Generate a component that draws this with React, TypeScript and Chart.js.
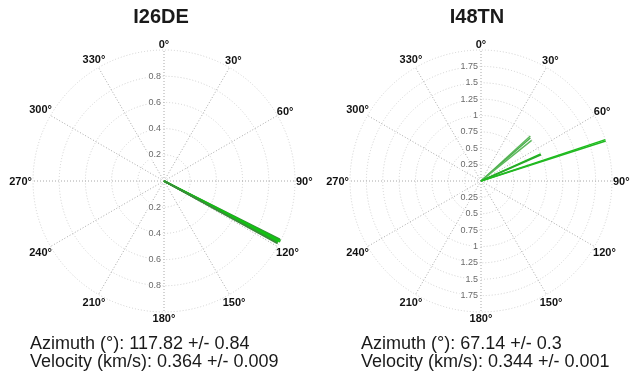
import React, { useEffect, useRef } from "react";
import { Chart, registerables } from "chart.js";

Chart.register(...registerables);

const FONT = "'Liberation Sans', Arial, Helvetica, sans-serif";

const ANGLE_LABELS = ["0°", "30°", "60°", "90°", "120°", "150°", "180°", "210°", "240°", "270°", "300°", "330°"];

// Left station
const LEFT_TITLE = "I26DE";
const LEFT_MAX = 1;
const LEFT_STEP = 0.2;
const LEFT_TICKS = [0.2, 0.4, 0.6, 0.8];
const LEFT_AZIMUTHS = [116.7, 117.0, 117.3, 117.6, 117.9, 118.2, 118.5, 118.8];
const LEFT_MAGNITUDES = [0.99, 1.0, 0.99, 1.0, 0.98, 0.99, 0.98, 0.99];
const LEFT_COLORS = ["#3a8a3a", "#22ae22", "#14c014", "#12c412", "#12c412", "#14c014", "#22ae22", "#3a8a3a"];
const LEFT_STATS = ["Azimuth (°): 117.82 +/- 0.84", "Velocity (km/s): 0.364 +/- 0.009"];

// Right station
const RIGHT_TITLE = "I48TN";
const RIGHT_MAX = 2;
const RIGHT_STEP = 0.25;
const RIGHT_TICKS = [0.25, 0.5, 0.75, 1, 1.25, 1.5, 1.75];
const RIGHT_AZIMUTHS = [47.6, 48.9, 51.3, 65.6, 66.4, 71.6, 72.2];
const RIGHT_MAGNITUDES = [1.02, 1.0, 0.99, 1.0, 1.0, 2.0, 2.0];
const RIGHT_COLORS = ["#5cb85c", "#4cae4c", "#5cb85c", "#1abf1a", "#2aa82a", "#1abf1a", "#22b822"];
const RIGHT_STATS = ["Azimuth (°): 67.14 +/- 0.3", "Velocity (km/s): 0.344 +/- 0.001"];

type PlotProps = {
  left: number;
  padLeft: number;
  padRight: number;
  title: string;
  titleCenter: number;
  statsLeft: number;
  max: number;
  step: number;
  ticks: number[];
  azimuths: number[];
  magnitudes: number[];
  colors: string[];
  lineWidth: number;
  stats: string[];
};

function PolarPlot(p: PlotProps) {
  const ref = useRef<HTMLCanvasElement | null>(null);

  useEffect(() => {
    if (!ref.current) return;
    const decor = {
      id: "polarDecor",
      afterDraw(chart: any) {
        const scale: any = chart.scales.r;
        const ctx: CanvasRenderingContext2D = chart.ctx;
        const cx = scale.xCenter;
        const cy = scale.yCenter;
        const n = ANGLE_LABELS.length;
        ctx.save();
        // radial tick labels, above and below centre
        ctx.font = `9px ${FONT}`;
        ctx.textAlign = "right";
        ctx.textBaseline = "middle";
        for (const v of p.ticks) {
          const d = scale.getDistanceFromCenterForValue(v);
          const txt = String(v);
          const w = ctx.measureText(txt).width;
          for (const y of [cy - d, cy + d]) {
            ctx.fillStyle = "#ffffff";
            ctx.fillRect(cx - 4 - w, y - 5, w + 2, 10);
            ctx.fillStyle = "#6a6a6a";
            ctx.fillText(txt, cx - 3, y);
          }
        }
        // direction lines
        ctx.lineWidth = p.lineWidth;
        ctx.lineCap = "butt";
        p.azimuths.forEach((az, i) => {
          const pos = scale.getPointPositionForValue(az / (360 / n), p.magnitudes[i]);
          ctx.strokeStyle = p.colors[i];
          ctx.beginPath();
          ctx.moveTo(cx, cy);
          ctx.lineTo(pos.x, pos.y);
          ctx.stroke();
        });
        // angle labels
        ctx.font = `bold 11px ${FONT}`;
        ctx.textAlign = "center";
        ctx.textBaseline = "middle";
        ctx.fillStyle = "#111111";
        ANGLE_LABELS.forEach((lab, i) => {
          const w = ctx.measureText(lab).width;
          const theta = (i * 2 * Math.PI) / n;
          const extra = 6 + Math.abs(Math.sin(theta)) * Math.max(0, w / 2 - 5);
          const pos = scale.getPointPosition(i, scale.drawingArea + extra);
          ctx.fillText(lab, pos.x, pos.y + 0.5);
        });
        ctx.restore();
      },
    };

    const chart = new Chart(ref.current, {
      type: "radar",
      data: { labels: ANGLE_LABELS, datasets: [] },
      options: {
        animation: false,
        responsive: false,
        maintainAspectRatio: false,
        layout: { padding: { left: p.padLeft, right: p.padRight, top: 50, bottom: 64 } },
        plugins: {
          legend: { display: false },
          title: { display: false },
          tooltip: { enabled: false },
        },
        scales: {
          r: {
            min: 0,
            max: p.max,
            startAngle: 0,
            ticks: { stepSize: p.step, display: false },
            grid: { circular: true, color: "#cfcfcf", lineWidth: 1 },
            border: { dash: [1, 2] },
            angleLines: { display: true, color: "#a8a8a8", lineWidth: 1, borderDash: [1, 2] },
            pointLabels: { display: false },
          },
        },
      },
      plugins: [decor],
    } as any);
    return () => chart.destroy();
  }, []);

  return (
    <>
      <canvas
        ref={ref}
        width={315}
        height={376}
        style={{ position: "absolute", left: p.left, top: 0, width: 315, height: 376 }}
      />
      <div
        style={{
          position: "absolute",
          left: p.titleCenter - 100,
          width: 200,
          top: 6,
          textAlign: "center",
          font: `bold 20px/20px ${FONT}`,
          color: "#1a1a1a",
        }}
      >
        {p.title}
      </div>
      <div
        style={{
          position: "absolute",
          left: p.statsLeft,
          top: 334,
          font: `18px/18px ${FONT}`,
          color: "#1a1a1a",
          whiteSpace: "nowrap",
        }}
      >
        {p.stats.map((s, i) => (
          <div key={i}>{s}</div>
        ))}
      </div>
    </>
  );
}

export default function App() {
  return (
    <div
      style={{
        position: "absolute",
        left: 0,
        top: 0,
        width: 630,
        height: 376,
        background: "#ffffff",
        overflow: "hidden",
      }}
    >
      <PolarPlot
        left={0}
        padLeft={33}
        padRight={20}
        title={LEFT_TITLE}
        titleCenter={161}
        statsLeft={30}
        max={LEFT_MAX}
        step={LEFT_STEP}
        ticks={LEFT_TICKS}
        azimuths={LEFT_AZIMUTHS}
        magnitudes={LEFT_MAGNITUDES}
        colors={LEFT_COLORS}
        lineWidth={1.7}
        stats={LEFT_STATS}
      />
      <PolarPlot
        left={316}
        padLeft={34}
        padRight={19}
        title={RIGHT_TITLE}
        titleCenter={477}
        statsLeft={361}
        max={RIGHT_MAX}
        step={RIGHT_STEP}
        ticks={RIGHT_TICKS}
        azimuths={RIGHT_AZIMUTHS}
        magnitudes={RIGHT_MAGNITUDES}
        colors={RIGHT_COLORS}
        lineWidth={1.5}
        stats={RIGHT_STATS}
      />
    </div>
  );
}
